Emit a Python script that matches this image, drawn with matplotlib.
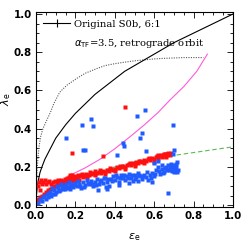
import matplotlib
matplotlib.use("Agg")
import matplotlib.pyplot as plt
from matplotlib.ticker import MultipleLocator

# ---- curves ----
solid_x = [0.0, 0.001, 0.003, 0.006, 0.012, 0.02, 0.03, 0.045, 0.07, 0.1, 0.15, 0.2, 0.25, 0.3,
           0.35, 0.4, 0.45, 0.5, 0.55, 0.6, 0.65, 0.7, 0.75, 0.8, 0.85, 0.9, 0.95, 1.0]
solid_y = [0.0, 0.035, 0.06, 0.09, 0.13, 0.17, 0.2, 0.24, 0.29, 0.35, 0.42, 0.48, 0.53, 0.58,
           0.62, 0.66, 0.70, 0.73, 0.76, 0.79, 0.82, 0.85, 0.875, 0.9, 0.925, 0.95, 0.975, 1.0]

dot_x = [0.0, 0.001, 0.003, 0.006, 0.01, 0.016, 0.024, 0.035, 0.057, 0.075, 0.09, 0.105, 0.12,
         0.134, 0.16, 0.21, 0.25, 0.31, 0.35, 0.4, 0.45, 0.5, 0.55, 0.6, 0.65, 0.7, 0.75, 0.85]
dot_y = [0.0, 0.07, 0.13, 0.19, 0.25, 0.31, 0.36, 0.40, 0.45, 0.49, 0.53, 0.56, 0.59,
         0.605, 0.63, 0.665, 0.69, 0.715, 0.73, 0.74, 0.748, 0.755, 0.76, 0.765, 0.768, 0.77, 0.772, 0.772]

mag_x = [0.17, 0.25, 0.325, 0.4, 0.48, 0.55, 0.62, 0.68, 0.75, 0.816, 0.87]
mag_y = [0.155, 0.195, 0.24, 0.295, 0.36, 0.42, 0.485, 0.55, 0.62, 0.70, 0.79]

grn_x = [0.0, 0.05, 0.1, 0.2, 0.3, 0.4, 0.5, 0.6, 0.7, 0.8, 0.9, 1.0]
grn_y = [0.0, 0.045, 0.085, 0.135, 0.17, 0.2, 0.225, 0.245, 0.26, 0.275, 0.29, 0.305]

# ---- red points ----
red_x = [0.010, 0.015, 0.020, 0.025, 0.030, 0.035, 0.045, 0.050, 0.060, 0.065, 0.075, 0.085,
         0.095, 0.105, 0.115, 0.125, 0.130, 0.140, 0.145, 0.150, 0.155, 0.160, 0.165, 0.170,
         0.175, 0.180, 0.185, 0.190, 0.195, 0.200, 0.205, 0.210, 0.215, 0.220, 0.230, 0.240,
         0.250, 0.255, 0.260, 0.270, 0.280, 0.290, 0.300, 0.310, 0.320, 0.330, 0.340, 0.350,
         0.360, 0.370, 0.380, 0.390, 0.400, 0.410, 0.420, 0.430, 0.440, 0.450, 0.460, 0.470,
         0.480, 0.490, 0.500, 0.510, 0.520, 0.530, 0.540, 0.550, 0.560, 0.570, 0.580, 0.590,
         0.600, 0.610, 0.620, 0.630, 0.640, 0.645, 0.650, 0.655, 0.660, 0.665, 0.670, 0.675,
         0.680, 0.685,
         0.003, 0.008, 0.012, 0.020, 0.030, 0.040, 0.050, 0.060, 0.070, 0.080, 0.090, 0.100,
         0.110, 0.120,
         0.170, 0.190, 0.220, 0.260, 0.300, 0.350, 0.400, 0.450, 0.500, 0.550, 0.600, 0.620,
         0.660, 0.300, 0.240, 0.200, 0.165, 0.185, 0.235, 0.275, 0.325, 0.375, 0.425, 0.475,
         0.525, 0.575, 0.615, 0.635, 0.655, 0.672, 0.155, 0.135, 0.110,
         0.450, 0.181, 0.338]
red_y = [0.100, 0.120, 0.080, 0.130, 0.110, 0.120, 0.130, 0.110, 0.120, 0.125, 0.110, 0.120,
         0.125, 0.115, 0.120, 0.130, 0.120, 0.125, 0.135, 0.130, 0.140, 0.120, 0.135, 0.130,
         0.140, 0.150, 0.135, 0.145, 0.140, 0.150, 0.145, 0.140, 0.155, 0.150, 0.155, 0.160,
         0.150, 0.165, 0.160, 0.160, 0.165, 0.170, 0.165, 0.170, 0.175, 0.170, 0.180, 0.175,
         0.185, 0.180, 0.190, 0.185, 0.190, 0.200, 0.195, 0.200, 0.205, 0.200, 0.210, 0.215,
         0.210, 0.220, 0.215, 0.225, 0.220, 0.230, 0.225, 0.235, 0.230, 0.240, 0.235, 0.245,
         0.240, 0.250, 0.245, 0.255, 0.250, 0.260, 0.265, 0.255, 0.270, 0.260, 0.265, 0.270,
         0.260, 0.275,
         0.010, 0.030, 0.020, 0.040, 0.050, 0.060, 0.070, 0.080, 0.085, 0.090, 0.100, 0.100,
         0.105, 0.110,
         0.160, 0.125, 0.130, 0.145, 0.180, 0.165, 0.178, 0.188, 0.205, 0.218, 0.228, 0.262,
         0.250, 0.157, 0.148, 0.132, 0.148, 0.155, 0.165, 0.172, 0.182, 0.192, 0.205, 0.222,
         0.232, 0.245, 0.255, 0.262, 0.268, 0.275, 0.122, 0.112, 0.132,
         0.515, 0.274, 0.257]

# ---- blue points ----
blue_x = [0.010, 0.020, 0.030, 0.035, 0.040, 0.050, 0.055, 0.060, 0.070, 0.075, 0.080, 0.085,
          0.090, 0.100, 0.105, 0.110, 0.120, 0.125, 0.130, 0.140, 0.145, 0.150, 0.160, 0.165,
          0.170, 0.180, 0.190, 0.200, 0.210, 0.215, 0.220, 0.230, 0.240, 0.250, 0.260, 0.270,
          0.280, 0.290, 0.300, 0.310, 0.315, 0.320, 0.330, 0.340, 0.350, 0.360, 0.370, 0.380,
          0.390, 0.400, 0.410, 0.420, 0.430, 0.440, 0.450, 0.460, 0.470, 0.480, 0.490, 0.500,
          0.510, 0.520, 0.530, 0.540, 0.550, 0.560, 0.570, 0.580, 0.590, 0.600, 0.610, 0.620,
          0.630, 0.640, 0.650, 0.660, 0.670, 0.675, 0.680, 0.685, 0.690, 0.695, 0.700, 0.705,
          0.710, 0.715, 0.720,
          0.065, 0.095, 0.115, 0.135, 0.155, 0.175, 0.195, 0.225, 0.245, 0.265, 0.285, 0.305,
          0.325, 0.345, 0.355, 0.365, 0.385, 0.405, 0.425, 0.445, 0.465, 0.485, 0.505, 0.525,
          0.545, 0.565, 0.585, 0.605, 0.625, 0.645, 0.655, 0.665, 0.690, 0.700, 0.710, 0.640,
          0.600, 0.620, 0.413, 0.590, 0.360, 0.420, 0.470, 0.520,
          0.152, 0.232, 0.279, 0.291, 0.240, 0.249, 0.553, 0.514, 0.694, 0.540, 0.528, 0.440,
          0.447, 0.557, 0.697, 0.700, 0.672, 0.717]
blue_y = [0.010, 0.030, 0.020, 0.040, 0.050, 0.030, 0.060, 0.040, 0.070, 0.050, 0.090, 0.060,
          0.080, 0.070, 0.100, 0.090, 0.080, 0.110, 0.095, 0.100, 0.085, 0.110, 0.090, 0.120,
          0.100, 0.110, 0.095, 0.115, 0.100, 0.125, 0.110, 0.090, 0.120, 0.105, 0.130, 0.110,
          0.125, 0.100, 0.120, 0.135, 0.080, 0.110, 0.130, 0.115, 0.140, 0.120, 0.100, 0.135,
          0.150, 0.130, 0.145, 0.120, 0.155, 0.140, 0.130, 0.150, 0.165, 0.140, 0.125, 0.155,
          0.145, 0.170, 0.150, 0.135, 0.160, 0.145, 0.130, 0.155, 0.170, 0.150, 0.185, 0.200,
          0.165, 0.190, 0.175, 0.200, 0.210, 0.185, 0.200, 0.215, 0.180, 0.195, 0.210, 0.190,
          0.200, 0.175, 0.185,
          0.065, 0.060, 0.075, 0.085, 0.095, 0.085, 0.105, 0.100, 0.095, 0.115, 0.110, 0.105,
          0.125, 0.140, 0.095, 0.135, 0.125, 0.155, 0.140, 0.160, 0.140, 0.155, 0.135, 0.160,
          0.150, 0.175, 0.140, 0.165, 0.180, 0.170, 0.195, 0.185, 0.205, 0.175, 0.215, 0.210,
          0.220, 0.230, 0.262, 0.120, 0.083, 0.105, 0.115, 0.125,
          0.352, 0.418, 0.448, 0.413, 0.286, 0.286, 0.500, 0.465, 0.417, 0.375, 0.349, 0.326,
          0.309, 0.283, 0.270, 0.290, 0.061, 0.228]

legend_label = "Original S0b, 6:1"
note_label = r"$\alpha_{\rm TF}$=3.5, retrograde orbit"
x_ticks = [0.0, 0.2, 0.4, 0.6, 0.8, 1.0]
y_ticks = [0.0, 0.2, 0.4, 0.6, 0.8, 1.0]

fig = plt.figure(figsize=(2.45, 2.45), dpi=100)
ax = fig.add_axes([0.147, 0.155, 0.804, 0.798])

ax.plot(dot_x, dot_y, ls=(0, (1, 1.2)), color="0.35", lw=0.8)
ax.plot(solid_x, solid_y, color="black", lw=0.8)
ax.plot(mag_x, mag_y, color="#ff5ad8", lw=0.8)
ax.plot(grn_x, grn_y, color="#5cb85c", lw=0.8, ls=(0, (4, 2.5)))
ax.plot(red_x, red_y, ls="none", marker="s", ms=2.3, color="#ff1010", mec="none")
ax.plot(blue_x, blue_y, ls="none", marker="s", ms=2.3, color="#1f5bff", mec="none")

# legend-like annotation
ax.plot([0.036, 0.173], [0.955, 0.955], color="black", lw=0.8)
ax.plot([0.107], [0.955], marker="|", ms=6, color="black", mew=0.8)
ax.text(0.193, 0.943, legend_label, fontsize=7.2, family="DejaVu Serif", va="center")
ax.text(0.193, 0.848, note_label, fontsize=7.2, family="DejaVu Serif", va="center")

ax.set_xlim(0, 1)
ax.set_ylim(-0.01, 1.013)
ax.set_xticks(x_ticks)
ax.set_yticks(y_ticks)
ax.set_xticklabels([f"{v:.1f}" for v in x_ticks])
ax.set_yticklabels([f"{v:.1f}" for v in y_ticks])
ax.xaxis.set_minor_locator(MultipleLocator(0.05))
ax.yaxis.set_minor_locator(MultipleLocator(0.05))
ax.tick_params(which="both", direction="in", top=True, right=True, width=0.6, labelsize=7.4)
ax.tick_params(which="major", length=4, pad=3)
ax.tick_params(which="minor", length=2)
for s in ax.spines.values():
    s.set_linewidth(0.8)
for lab in ax.get_xticklabels() + ax.get_yticklabels():
    lab.set_fontweight("bold")
ax.set_xlabel(r"$\epsilon_{\rm e}$", fontsize=8)
ax.set_ylabel(r"$\lambda_{\rm e}$", fontsize=8)
ax.xaxis.set_label_coords(0.5, -0.125)
ax.yaxis.set_label_coords(-0.115, 0.55)

fig.savefig("out.png", dpi=100)
